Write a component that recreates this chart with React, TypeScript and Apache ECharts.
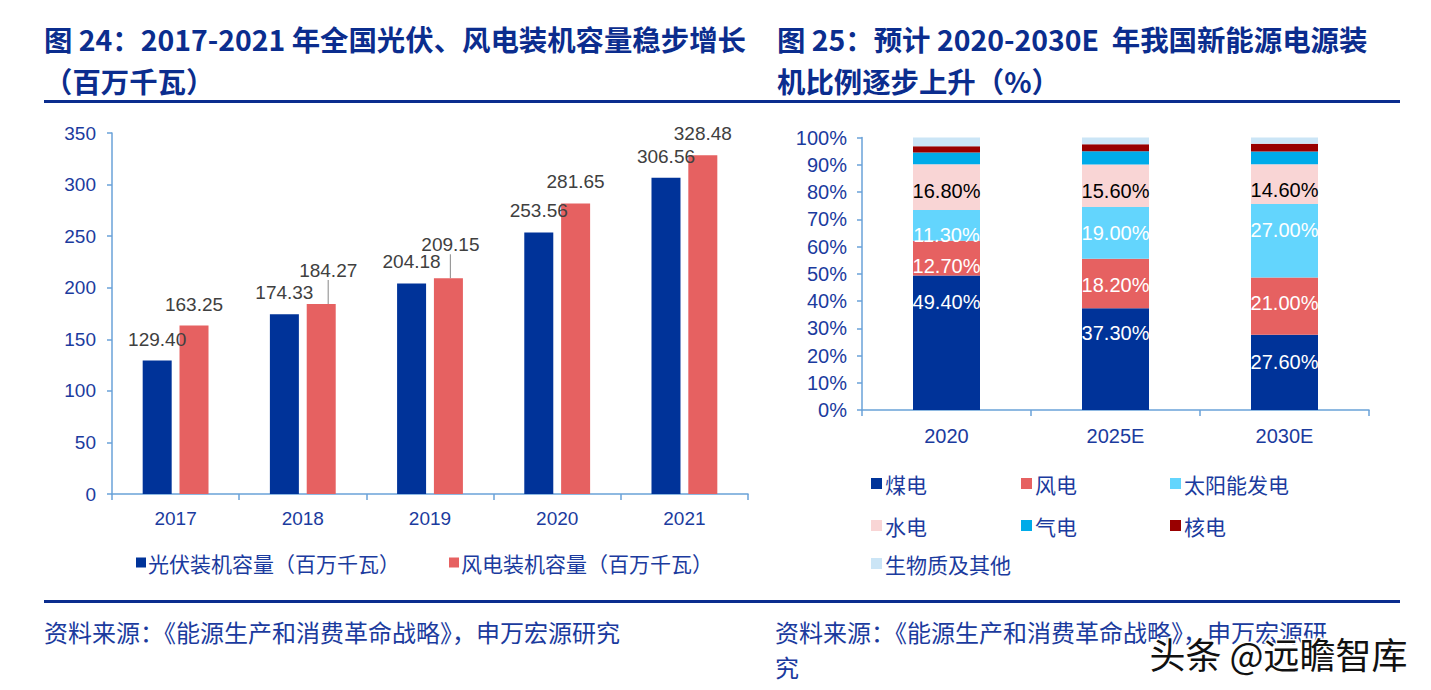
import React, { useEffect, useRef } from "react";
import * as echarts from "echarts";

// ---------- Left chart data ----------
const yearsL = ["2017", "2018", "2019", "2020", "2021"];
const solarCapacity = [129.4, 174.33, 204.18, 253.56, 306.56];
const windCapacity = [163.25, 184.27, 209.15, 281.65, 328.48];
const seriesNamesL = ["光伏装机容量（百万千瓦）", "风电装机容量（百万千瓦）"];

// ---------- Right chart data ----------
const yearsR = ["2020", "2025E", "2030E"];
const coalShare = [49.4, 37.3, 27.6];
const windShare = [12.7, 18.2, 21.0];
const solarShare = [11.3, 19.0, 27.0];
const hydroShare = [16.8, 15.6, 14.6];
const gasShare = [4.3, 4.9, 4.7];
const nuclearShare = [2.3, 2.5, 2.8];
const biomassShare = [3.2, 2.5, 2.3];
const seriesNamesR = ["煤电", "风电", "太阳能发电", "水电", "气电", "核电", "生物质及其他"];

// ---------- Texts ----------
const titleLeft1 = "图 24：2017-2021 年全国光伏、风电装机容量稳步增长";
const titleLeft2 = "（百万千瓦）";
const titleRight1 = "图 25：预计 2020-2030E  年我国新能源电源装";
const titleRight2 = "机比例逐步上升（%）";
const sourceLeft = "资料来源：《能源生产和消费革命战略》，申万宏源研究";
const sourceRight1 = "资料来源：《能源生产和消费革命战略》，申万宏源研";
const sourceRight2 = "究";
const watermark = "头条 @远瞻智库";

const DARK = "#0b2d8e";
const TEXTBLUE = "#1b3b9e";
const AXIS = "#6aa2d8";
const FONT = "'Liberation Sans', Arial, 'Noto Sans CJK SC', sans-serif";
const CJK = "'Noto Sans CJK SC', 'Liberation Sans', sans-serif";

const COLORS_R = ["#003399", "#e66161", "#63d5fd", "#f9d5d5", "#00abe9", "#990000", "#cbe5f6"];
const LABEL_COLORS_R = ["#ffffff", "#ffffff", "#ffffff", "#000000", null, null, null];
// vertical nudges (px) of the in-bar labels, as placed in the original
const LABEL_DY_R = [
  [-41, -26, -10],
  [8, 1, -3],
  [10, 0, -11],
  [4, 5, 6],
];

export default function App() {
  const ref = useRef<HTMLDivElement>(null);

  useEffect(() => {
    if (!ref.current) return;
    const chart = echarts.init(ref.current, undefined, { renderer: "svg" });

    const shiftedWind: Record<number, { dx: number; dy: number }> = {
      1: { dx: 7, dy: -12 },
      2: { dx: 2, dy: -12 },
    };

    const sharesR = [coalShare, windShare, solarShare, hydroShare, gasShare, nuclearShare, biomassShare];

    const rightSeries = sharesR.map((arr, i) => ({
      name: seriesNamesR[i],
      type: "bar",
      stack: "mix",
      xAxisIndex: 1,
      yAxisIndex: 1,
      barWidth: 67,
      data: arr,
      itemStyle: { color: COLORS_R[i] },
      labelLayout: LABEL_DY_R[i]
        ? (p: any) => ({ dy: LABEL_DY_R[i][p.dataIndex] || 0 })
        : undefined,
      label: LABEL_COLORS_R[i]
        ? {
            show: true,
            position: "inside",
            color: LABEL_COLORS_R[i],
            fontSize: 20,
            fontFamily: FONT,
            formatter: (p: any) => p.value.toFixed(2) + "%",
          }
        : { show: false },
    }));

    const legendPos = [
      [871, 484],
      [1021, 484],
      [1170, 484],
      [871, 526],
      [1021, 526],
      [1170, 526],
      [871, 564],
    ];

    const rightLegends = seriesNamesR.map((n, i) => ({
      data: [n],
      left: legendPos[i][0],
      top: legendPos[i][1] - 11,
      padding: 0,
      icon: "rect",
      itemWidth: 11,
      itemHeight: 11,
      selectedMode: false,
      textStyle: { fontSize: 21, color: TEXTBLUE, fontFamily: CJK, padding: [0, 0, 0, -2] },
    }));

    const option: any = {
      animation: false,
      backgroundColor: "#ffffff",
      legend: [
        {
          data: seriesNamesL,
          left: 136,
          top: 552,
          padding: 0,
          icon: "rect",
          itemWidth: 10,
          itemHeight: 10,
          itemGap: 49,
          selectedMode: false,
          textStyle: { fontSize: 21, color: TEXTBLUE, fontFamily: CJK, padding: [0, 0, 0, -3] },
        },
        ...rightLegends,
      ],
      grid: [
        { left: 112, right: 683, top: 133, bottom: 196 },
        { left: 862, right: 62, top: 137.5, bottom: 280 },
      ],
      xAxis: [
        {
          type: "category",
          gridIndex: 0,
          data: yearsL,
          axisLine: { show: true, lineStyle: { color: AXIS, width: 1.5 } },
          axisTick: { show: true, length: 6, lineStyle: { color: AXIS, width: 1.5 } },
          axisLabel: { color: TEXTBLUE, fontSize: 19, fontFamily: FONT, margin: 15 },
        },
        {
          type: "category",
          gridIndex: 1,
          data: yearsR,
          axisLine: { show: true, lineStyle: { color: AXIS, width: 1.5 } },
          axisTick: { show: true, length: 6, lineStyle: { color: AXIS, width: 1.5 } },
          axisLabel: { color: TEXTBLUE, fontSize: 20, fontFamily: FONT, margin: 16 },
        },
      ],
      yAxis: [
        {
          type: "value",
          gridIndex: 0,
          min: 0,
          max: 350,
          interval: 50,
          splitLine: { show: false },
          axisLine: { show: true, lineStyle: { color: AXIS, width: 1.5 } },
          axisTick: { show: true, length: 5, lineStyle: { color: AXIS, width: 1.5 } },
          axisLabel: { color: TEXTBLUE, fontSize: 19, fontFamily: FONT, margin: 16 },
        },
        {
          type: "value",
          gridIndex: 1,
          min: 0,
          max: 100,
          interval: 10,
          splitLine: { show: false },
          axisLine: { show: true, lineStyle: { color: AXIS, width: 1.5 } },
          axisTick: { show: true, length: 5, lineStyle: { color: AXIS, width: 1.5 } },
          axisLabel: {
            color: TEXTBLUE,
            fontSize: 20,
            fontFamily: FONT,
            margin: 15,
            formatter: "{value}%",
          },
        },
      ],
      series: [
        {
          name: seriesNamesL[0],
          type: "bar",
          xAxisIndex: 0,
          yAxisIndex: 0,
          barWidth: 29,
          barGap: "27%",
          data: solarCapacity,
          itemStyle: { color: "#003399" },
          label: {
            show: true,
            position: "top",
            distance: 12,
            color: "#404040",
            fontSize: 19,
            fontFamily: FONT,
            formatter: (p: any) => p.value.toFixed(2),
          },
        },
        {
          name: seriesNamesL[1],
          type: "bar",
          xAxisIndex: 0,
          yAxisIndex: 0,
          barWidth: 29,
          barGap: "27%",
          data: windCapacity.map((v, i) =>
            shiftedWind[i]
              ? { value: v, labelLine: { show: true, lineStyle: { color: "#9a9a9a", width: 1.2 } } }
              : { value: v }
          ),
          itemStyle: { color: "#e66161" },
          labelLine: { show: false, lineStyle: { color: "#9a9a9a" } },
          labelLayout: (p: any) => {
            const s = shiftedWind[p.dataIndex];
            return s ? { dx: s.dx, dy: s.dy } : {};
          },
          label: {
            show: true,
            position: "top",
            distance: 12,
            color: "#404040",
            fontSize: 19,
            fontFamily: FONT,
            formatter: (p: any) => Number(p.value).toFixed(2),
          },
        },
        ...rightSeries,
      ],
      graphic: [
        {
          type: "text",
          left: 44,
          top: 24,
          style: { text: titleLeft1, fill: DARK, font: `bold 28.4px ${CJK}` },
        },
        {
          type: "text",
          left: 44,
          top: 66,
          style: { text: titleLeft2, fill: DARK, font: `bold 28.4px ${CJK}` },
        },
        {
          type: "text",
          left: 777,
          top: 24,
          style: { text: titleRight1, fill: DARK, font: `bold 28.4px ${CJK}` },
        },
        {
          type: "text",
          left: 777,
          top: 66,
          style: { text: titleRight2, fill: DARK, font: `bold 28.4px ${CJK}` },
        },
        { type: "rect", shape: { x: 44, y: 100, width: 1356, height: 3 }, style: { fill: DARK } },
        { type: "rect", shape: { x: 44, y: 600, width: 1356, height: 3 }, style: { fill: DARK } },
        {
          type: "text",
          left: 44,
          top: 619,
          style: { text: sourceLeft, fill: TEXTBLUE, font: `24px ${CJK}` },
        },
        {
          type: "text",
          left: 775,
          top: 619,
          style: { text: sourceRight1, fill: TEXTBLUE, font: `24px ${CJK}` },
        },
        {
          type: "text",
          left: 775,
          top: 654,
          style: { text: sourceRight2, fill: TEXTBLUE, font: `24px ${CJK}` },
        },
        {
          type: "text",
          left: 1148,
          top: 633,
          z: 100,
          style: {
            text: watermark,
            fill: "#111111",
            stroke: "#ffffff",
            lineWidth: 3,
            font: `36px ${CJK}`,
          },
        },
      ],
    };

    chart.setOption(option);
    return () => chart.dispose();
  }, []);

  return (
    <div
      ref={ref}
      style={{ position: "absolute", left: 0, top: 0, width: 1431, height: 690 }}
    />
  );
}
